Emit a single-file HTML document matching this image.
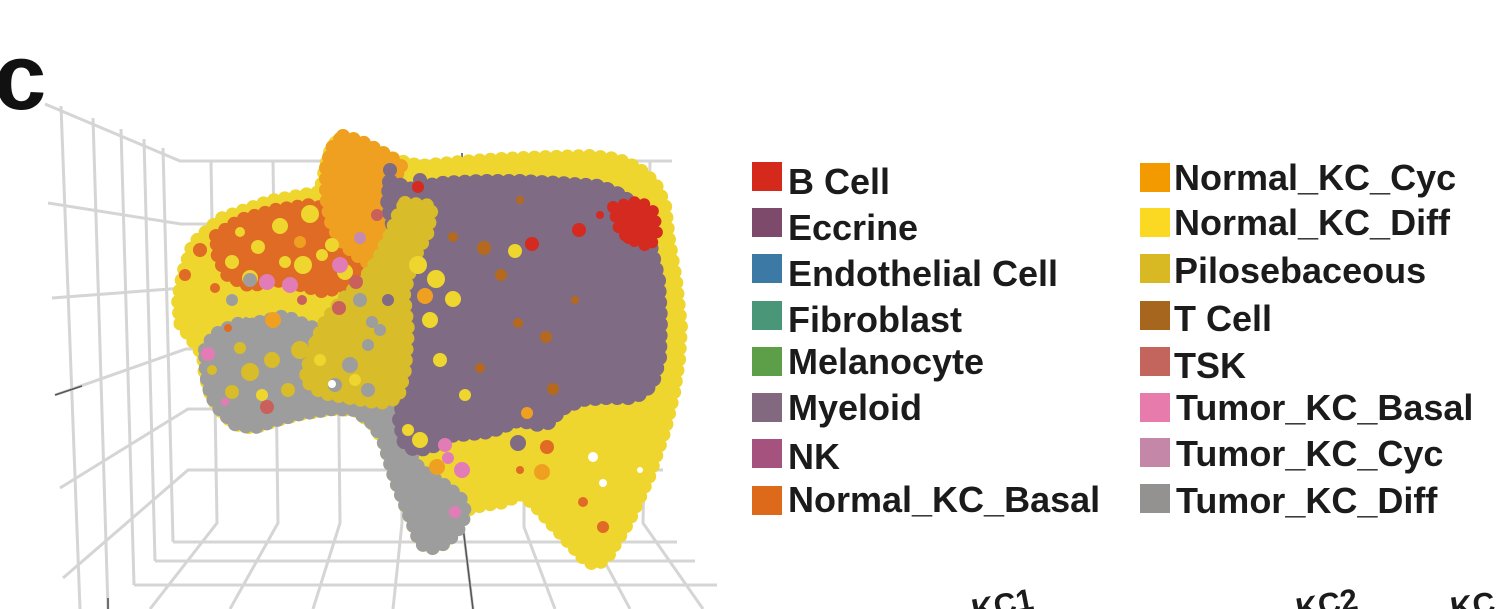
<!DOCTYPE html>
<html>
<head>
<meta charset="utf-8">
<style>
  html,body{margin:0;padding:0;background:#fff;}
  body{width:1496px;height:609px;overflow:hidden;position:relative;font-family:"Liberation Sans",Arial,sans-serif;}
  svg{position:absolute;left:0;top:0;}
  .sq{position:absolute;width:30px;height:29px;}
  .lb{position:absolute;font-weight:bold;font-size:36px;color:#1b1b1b;line-height:1;white-space:nowrap;}
</style>
</head>
<body>
<svg width="1496" height="609" viewBox="0 0 1496 609" xmlns="http://www.w3.org/2000/svg">
  <!-- panel letter -->
  <text x="-6" y="109" font-family="Liberation Sans, Arial, sans-serif" font-weight="bold" font-size="94" fill="#111">c</text>

  <!-- grid -->
  <g stroke="#d5d5d5" stroke-width="3" fill="none">
    <path d="M45,104 L180,161 L672,161"/>
    <path d="M48,203 L181,224 L665,224"/>
    <path d="M52,298 L183,288 L665,288"/>
    <path d="M55,395 L186,349 L665,349"/>
    <path d="M60,488 L188,409 L665,409"/>
    <path d="M63,578 L188,470 L663,470"/>
    <path d="M61,106 L80,609"/>
    <path d="M93,118 L108,609"/>
    <path d="M121,129 L134,585"/>
    <path d="M144,139 L155,561"/>
    <path d="M163,148 L173,542"/>
    <path d="M173,542 L677,542"/>
    <path d="M155,561 L695,561"/>
    <path d="M134,585 L717,585"/>
    <path d="M211,161 L217,523 L150,609"/>
    <path d="M273,161 L278,523 L230,609"/>
    <path d="M336,161 L340,523 L313,609"/>
    <path d="M399,161 L402,523 L393,609"/>
    <path d="M461,161 L463,527 L473,609"/>
    <path d="M524,161 L524,527 L555,609"/>
    <path d="M587,161 L585,525 L630,609"/>
    <path d="M650,161 L643,523 L703,609"/>
  </g>
  <path d="M55,395 L82,386" stroke="#555" stroke-width="1.6" fill="none"/>
  <path d="M463,527 L473,609" stroke="#555" stroke-width="1.6" fill="none"/>
  <path d="M462,153 L462,161" stroke="#555" stroke-width="1.6" fill="none"/>
  <path d="M108,598 L108,609" stroke="#555" stroke-width="1.6" fill="none"/>

  <!-- scatter blob -->
  <g stroke-linecap="round" stroke-linejoin="round" stroke-dasharray="0 11">
    <!-- Normal_KC_Diff base -->
    <polygon fill="#eed62f" stroke="#eed62f" stroke-width="14" points="343,136 360,141 378,150 396,160 420,166 460,162 500,159 549,157 590,156 617,159 638,168 655,183 665,205 669,240 676,280 681,327 679,360 674,393 665,430 649,477 629,521 608,556 597,565 586,561 576,550 552,524 533,503 520,494 505,502 485,505 470,508 461,522 446,543 430,549 420,543 411,520 395,480 383,440 374,425 355,410 333,409 300,414 277,420 253,428 234,424 220,410 211,396 205,375 203,355 193,341 180,323 178,300 183,273 193,244 220,219 270,201 320,192 326,165 332,146"/>
    <!-- Normal_KC_Basal -->
    <polygon fill="#df6b24" stroke="#df6b24" stroke-width="14" points="216,236 240,220 275,210 310,205 330,210 345,228 362,246 372,263 365,280 345,285 325,292 300,285 275,280 250,286 228,276 218,258"/>
    <!-- Normal_KC_Cyc peak -->
    <polygon fill="#f0a021" stroke="#f0a021" stroke-width="14" points="343,136 360,141 378,150 395,160 403,168 395,176 382,186 380,205 385,230 383,258 370,264 355,254 340,240 330,220 326,196 326,166 333,146"/>
    <!-- Tumor_KC_Diff -->
    <polygon fill="#9d9d9d" stroke="#9d9d9d" stroke-width="14" points="205,350 214,335 236,324 260,322 285,316 305,325 330,333 355,342 375,356 390,372 398,398 380,435 372,423 355,410 333,409 300,414 277,420 253,428 234,424 220,410 211,396 206,375"/>
    <polygon fill="#9d9d9d" stroke="#9d9d9d" stroke-width="14" points="380,400 398,400 405,445 420,470 440,482 460,497 466,514 458,530 446,543 430,549 420,543 411,520 395,480 383,440"/>
    <!-- Myeloid -->
    <polygon fill="#7f6b83" stroke="#7f6b83" stroke-width="16" points="390,182 412,190 440,184 480,182 520,182 560,184 600,187 624,197 640,217 650,246 658,280 660,320 659,358 652,383 642,393 628,397 605,397 582,399 562,408 548,422 535,424 520,419 505,425 490,431 470,433 450,435 432,446 416,450 405,443 400,420 406,390 408,350 404,300 400,270 395,232 388,205"/>
    <!-- Pilosebaceous band -->
    <polygon fill="#d8bc2a" stroke="#d8bc2a" stroke-width="14" points="405,203 432,206 428,232 412,262 404,295 408,330 405,370 398,398 380,403 350,398 322,393 305,380 312,350 325,322 342,300 362,282 378,260 390,235 398,215"/>
    <!-- B cell patch -->
    <polygon fill="#d42a1f" stroke="#d42a1f" stroke-width="12" points="613,207 640,201 654,212 657,232 650,247 636,242 620,232"/>
  </g>

  <!-- dots -->
  <g fill="#eed62f">
    <circle cx="310" cy="214" r="9"/><circle cx="280" cy="226" r="8"/><circle cx="303" cy="265" r="9"/>
    <circle cx="250" cy="278" r="8"/><circle cx="258" cy="247" r="7"/><circle cx="332" cy="245" r="7"/>
    <circle cx="285" cy="262" r="6"/><circle cx="345" cy="272" r="8"/><circle cx="232" cy="262" r="7"/>
    <circle cx="322" cy="255" r="6"/><circle cx="240" cy="232" r="5"/><circle cx="226" cy="290" r="8"/>
    <circle cx="275" cy="300" r="9"/><circle cx="300" cy="305" r="8"/><circle cx="250" cy="310" r="8"/>
    <circle cx="418" cy="265" r="9"/><circle cx="436" cy="279" r="9"/><circle cx="453" cy="299" r="8"/>
    <circle cx="515" cy="251" r="7"/><circle cx="430" cy="320" r="8"/><circle cx="440" cy="360" r="7"/>
    <circle cx="465" cy="395" r="6"/><circle cx="420" cy="440" r="8"/><circle cx="408" cy="430" r="6"/>
    <circle cx="262" cy="395" r="6"/><circle cx="320" cy="360" r="6"/><circle cx="355" cy="380" r="6"/>
  </g>
  <g fill="#df6b24">
    <circle cx="185" cy="275" r="6"/><circle cx="200" cy="250" r="7"/><circle cx="215" cy="288" r="5"/>
    <circle cx="547" cy="447" r="7"/><circle cx="603" cy="527" r="6"/><circle cx="583" cy="502" r="5"/>
    <circle cx="520" cy="470" r="4"/><circle cx="228" cy="328" r="4"/>
  </g>
  <g fill="#9d9d9d">
    <circle cx="250" cy="280" r="7"/><circle cx="232" cy="300" r="6"/><circle cx="360" cy="300" r="7"/>
    <circle cx="372" cy="322" r="6"/><circle cx="335" cy="385" r="7"/><circle cx="350" cy="365" r="8"/>
    <circle cx="368" cy="345" r="6"/><circle cx="380" cy="330" r="6"/><circle cx="368" cy="390" r="7"/>
  </g>
  <g fill="#d8bc2a">
    <circle cx="250" cy="372" r="9"/><circle cx="272" cy="360" r="8"/><circle cx="232" cy="392" r="7"/>
    <circle cx="300" cy="350" r="9"/><circle cx="318" cy="342" r="8"/><circle cx="288" cy="390" r="7"/>
    <circle cx="240" cy="348" r="6"/><circle cx="212" cy="370" r="5"/>
  </g>
  <g fill="#e27cb6">
    <circle cx="267" cy="282" r="8"/><circle cx="290" cy="285" r="8"/><circle cx="340" cy="265" r="8"/>
    <circle cx="208" cy="354" r="7"/><circle cx="445" cy="445" r="7"/><circle cx="462" cy="470" r="8"/>
    <circle cx="455" cy="512" r="6"/><circle cx="448" cy="458" r="6"/><circle cx="225" cy="402" r="4"/>
  </g>
  <g fill="#c9605c">
    <circle cx="356" cy="282" r="7"/><circle cx="339" cy="308" r="7"/><circle cx="377" cy="215" r="6"/>
    <circle cx="267" cy="407" r="7"/><circle cx="302" cy="300" r="5"/>
  </g>
  <g fill="#c58ab0">
    <circle cx="360" cy="238" r="6"/>
  </g>
  <g fill="#f0a021">
    <circle cx="273" cy="320" r="8"/><circle cx="425" cy="296" r="8"/><circle cx="437" cy="467" r="8"/>
    <circle cx="542" cy="472" r="8"/><circle cx="527" cy="413" r="6"/><circle cx="300" cy="242" r="6"/>
  </g>
  <g fill="#7f6b83">
    <circle cx="390" cy="170" r="7"/><circle cx="420" cy="180" r="7"/><circle cx="518" cy="443" r="8"/>
    <circle cx="388" cy="300" r="6"/>
  </g>
  <g fill="#b4691e">
    <circle cx="453" cy="237" r="5"/><circle cx="484" cy="248" r="7"/><circle cx="501" cy="275" r="6"/>
    <circle cx="518" cy="323" r="5"/><circle cx="546" cy="337" r="6"/><circle cx="480" cy="368" r="5"/>
    <circle cx="553" cy="389" r="6"/><circle cx="520" cy="200" r="4"/><circle cx="575" cy="300" r="4"/>
  </g>
  <g fill="#d42a1f">
    <circle cx="532" cy="244" r="7"/><circle cx="579" cy="230" r="7"/><circle cx="629" cy="237" r="7"/>
    <circle cx="418" cy="187" r="6"/><circle cx="600" cy="215" r="4"/>
  </g>
  <g fill="#ffffff">
    <circle cx="332" cy="384" r="4"/><circle cx="593" cy="457" r="5"/><circle cx="603" cy="483" r="4"/>
    <circle cx="640" cy="470" r="3"/>
  </g>

  <!-- axis labels (cut off) -->
  <g font-family="Liberation Sans, Arial, sans-serif" font-weight="bold" fill="#1b1b1b">
    <text transform="translate(974,621) rotate(-11)" font-size="31">KC1</text>
    <text transform="translate(1298,620) rotate(-10)" font-size="31">KC2</text>
    <text transform="translate(1452,619) rotate(-8)" font-size="31">KC</text>
  </g>
</svg>

<!-- legend left column -->
<div class="sq" style="left:752px;top:162px;background:#d52a1b"></div>
<div class="sq" style="left:752px;top:208px;background:#7e4a6c"></div>
<div class="sq" style="left:752px;top:254px;background:#3c7aa5"></div>
<div class="sq" style="left:752px;top:301px;background:#4a9679"></div>
<div class="sq" style="left:752px;top:347px;background:#5d9e48"></div>
<div class="sq" style="left:752px;top:393px;background:#83697f"></div>
<div class="sq" style="left:752px;top:439px;background:#a5527f"></div>
<div class="sq" style="left:752px;top:486px;background:#dc6a1a"></div>

<div class="lb" style="left:788px;top:164px;">B Cell</div>
<div class="lb" style="left:788px;top:210px;">Eccrine</div>
<div class="lb" style="left:788px;top:256px;">Endothelial Cell</div>
<div class="lb" style="left:788px;top:302px;">Fibroblast</div>
<div class="lb" style="left:788px;top:344px;">Melanocyte</div>
<div class="lb" style="left:788px;top:390px;">Myeloid</div>
<div class="lb" style="left:788px;top:439px;">NK</div>
<div class="lb" style="left:788px;top:482px;">Normal_KC_Basal</div>

<!-- legend right column -->
<div class="sq" style="left:1140px;top:163px;background:#f39a00"></div>
<div class="sq" style="left:1140px;top:208px;background:#fbd922"></div>
<div class="sq" style="left:1140px;top:254px;background:#d9b923"></div>
<div class="sq" style="left:1140px;top:301px;background:#a6661e"></div>
<div class="sq" style="left:1140px;top:347px;background:#c4655d"></div>
<div class="sq" style="left:1140px;top:393px;background:#e67bac"></div>
<div class="sq" style="left:1140px;top:438px;background:#c487a8"></div>
<div class="sq" style="left:1140px;top:484px;background:#939290"></div>

<div class="lb" style="left:1174px;top:160px;">Normal_KC_Cyc</div>
<div class="lb" style="left:1174px;top:205px;">Normal_KC_Diff</div>
<div class="lb" style="left:1174px;top:253px;">Pilosebaceous</div>
<div class="lb" style="left:1174px;top:301px;">T Cell</div>
<div class="lb" style="left:1174px;top:348px;">TSK</div>
<div class="lb" style="left:1176px;top:390px;">Tumor_KC_Basal</div>
<div class="lb" style="left:1176px;top:436px;">Tumor_KC_Cyc</div>
<div class="lb" style="left:1176px;top:483px;">Tumor_KC_Diff</div>
</body>
</html>
